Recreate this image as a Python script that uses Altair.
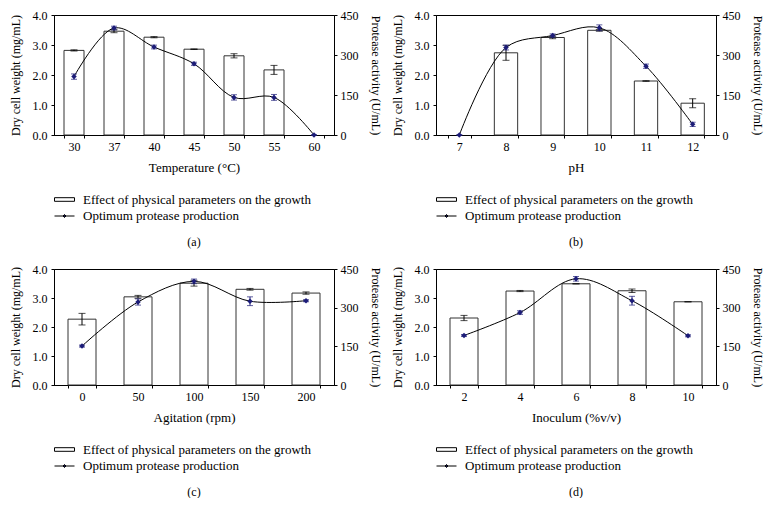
import altair as alt
import pandas as pd
import numpy as np

FONT = "Liberation Serif"
NAVY = "#1c1c78"
LEG1 = "Effect of physical parameters on the growth"
LEG2 = "Optimum protease production"

# (a) Temperature
temp_cats = ["30", "37", "40", "45", "50", "55", "60"]
temp_dcw = [2.82, 3.46, 3.26, 2.86, 2.64, 2.17, np.nan]
temp_dcw_err = [0.02, 0.05, 0.02, 0.01, 0.07, 0.15, np.nan]
temp_prot = [219, 401, 330, 267, 141, 141, 0]
temp_prot_err = [10, 7, 7, 6, 10, 11, 0]

# (b) pH
ph_cats = ["7", "8", "9", "10", "11", "12"]
ph_dcw = [np.nan, 2.74, 3.25, 3.49, 1.80, 1.06]
ph_dcw_err = [np.nan, 0.25, 0.04, 0.03, 0.01, 0.15]
ph_prot = [0, 328, 373, 402, 258, 40]
ph_prot_err = [0, 9, 6, 11, 8, 8]

# (c) Agitation
agit_cats = ["0", "50", "100", "150", "200"]
agit_dcw = [2.27, 3.04, 3.51, 3.30, 3.17]
agit_dcw_err = [0.20, 0.05, 0.10, 0.03, 0.04]
agit_prot = [151, 322, 402, 325, 327]
agit_prot_err = [4, 12, 9, 17, 4]

# (d) Inoculum
inoc_cats = ["2", "4", "6", "8", "10"]
inoc_dcw = [2.31, 3.24, 3.49, 3.25, 2.87]
inoc_dcw_err = [0.09, 0.02, 0.0, 0.06, 0.0]
inoc_prot = [192, 281, 412, 327, 191]
inoc_prot_err = [4, 7, 9, 17, 4]


def panel(cats, dcw, dcw_err, prot, prot_err, xtitle, caption, h):
    df = pd.DataFrame({"cat": cats, "dcw": dcw, "dcw_err": dcw_err,
                       "prot": prot, "prot_err": prot_err})
    df["dcw_lo"] = df["dcw"] - df["dcw_err"]
    df["dcw_hi"] = df["dcw"] + df["dcw_err"]
    df["prot_lo"] = df["prot"] - df["prot_err"]
    df["prot_hi"] = df["prot"] + df["prot_err"]
    df["s1"] = LEG1
    df["s2"] = LEG2
    base = alt.Chart(df)
    x = alt.X("cat:N", sort=cats,
              scale=alt.Scale(paddingInner=0.5, paddingOuter=0.25),
              axis=alt.Axis(title=xtitle, labelAngle=0, tickBand="extent",
                            tickSize=3, labelPadding=3, titlePadding=9,
                            titleFontSize=13))
    ls = alt.Scale(domain=[0, 4])
    rs = alt.Scale(domain=[0, 450])
    lax = alt.Axis(title="Dry cell weight (mg/mL)", values=[0, 1, 2, 3, 4],
                   format=".1f", grid=False, tickSize=3, labelPadding=4, titlePadding=10)
    rax = alt.Axis(orient="right", title="Protease activity (U/mL)",
                   values=[0, 150, 300, 450], grid=False, tickSize=3,
                   labelPadding=3, titlePadding=10)

    bars = base.mark_bar(stroke="#333333", strokeWidth=1).encode(
        x=x,
        y=alt.Y("dcw:Q", scale=ls, axis=lax),
        fill=alt.Fill("s1:N", scale=alt.Scale(domain=[LEG1], range=["white"]),
                      legend=alt.Legend(title=None, orient="none", legendX=0, legendY=h + 54,
                                        symbolType="M-1,-0.18H1V0.18H-1Z", symbolSize=400,
                                        symbolStrokeColor="black", symbolStrokeWidth=1,
                                        labelOffset=8, padding=0, labelLimit=400)),
    )
    r1 = base.mark_rule(color="black", strokeWidth=1).encode(
        x=x, y=alt.Y("dcw_lo:Q", scale=ls, axis=lax), y2="dcw_hi:Q")
    c1 = base.mark_tick(color="black", thickness=1, size=7).encode(
        x=x, y=alt.Y("dcw_lo:Q", scale=ls, axis=lax))
    c2 = base.mark_tick(color="black", thickness=1, size=7).encode(
        x=x, y=alt.Y("dcw_hi:Q", scale=ls, axis=lax))
    left = alt.layer(bars, r1, c1, c2)

    line = base.mark_line(interpolate="catmull-rom", strokeWidth=1).encode(
        x=x,
        y=alt.Y("prot:Q", scale=rs, axis=rax),
        stroke=alt.Stroke("s2:N", scale=alt.Scale(domain=[LEG2], range=["black"]),
                          legend=alt.Legend(title=None, orient="none", legendX=0,
                                            legendY=h + 70.5,
                                            symbolType="M-1,0H1M-0.15,0L0,-0.15L0.15,0L0,0.15Z",
                                            symbolSize=400, symbolStrokeWidth=1,
                                            symbolFillColor=NAVY,
                                            labelOffset=8, padding=0, labelLimit=400)),
    )
    r2 = base.mark_rule(color=NAVY, strokeWidth=1).encode(
        x=x, y=alt.Y("prot_lo:Q", scale=rs, axis=rax), y2="prot_hi:Q")
    c3 = base.mark_tick(color=NAVY, thickness=1, size=6).encode(
        x=x, y=alt.Y("prot_lo:Q", scale=rs, axis=rax))
    c4 = base.mark_tick(color=NAVY, thickness=1, size=6).encode(
        x=x, y=alt.Y("prot_hi:Q", scale=rs, axis=rax))
    pts = base.mark_point(shape="diamond", filled=True, size=30, color=NAVY, opacity=1).encode(
        x=x, y=alt.Y("prot:Q", scale=rs, axis=rax))
    right = alt.layer(line, r2, c3, c4, pts)

    return alt.layer(left, right).resolve_scale(y="independent").properties(
        width=280, height=h,
        title=alt.TitleParams(caption, orient="bottom", anchor="middle", offset=13,
                              font=FONT, fontSize=12, fontWeight="normal", color="black"),
    )


pa = panel(temp_cats, temp_dcw, temp_dcw_err, temp_prot, temp_prot_err,
           "Temperature (°C)", "(a)", 120)
pb = panel(ph_cats, ph_dcw, ph_dcw_err, ph_prot, ph_prot_err, "pH", "(b)", 120)
pc = panel(agit_cats, agit_dcw, agit_dcw_err, agit_prot, agit_prot_err,
           "Agitation (rpm)", "(c)", 116)
pd_ = panel(inoc_cats, inoc_dcw, inoc_dcw_err, inoc_prot, inoc_prot_err,
            "Inoculum (%v/v)", "(d)", 116)

res = dict(fill="independent", stroke="independent")
row1 = alt.hconcat(pa, pb, spacing=8).resolve_scale(**res).resolve_legend(**res)
row2 = alt.hconcat(pc, pd_, spacing=8).resolve_scale(**res).resolve_legend(**res)

chart = alt.vconcat(row1, row2, spacing=14).resolve_scale(**res).resolve_legend(**res).properties(
    padding={"left": 0, "top": 0, "right": 0, "bottom": 0}
).configure_axis(
    labelFont=FONT, titleFont=FONT, labelFontSize=12, titleFontSize=12,
    titleFontWeight="normal", domainColor="black", tickColor="black",
    labelColor="black", titleColor="black",
).configure_legend(
    labelFont=FONT, labelFontSize=13, labelColor="black", rowPadding=5,
).configure_view(stroke="black", strokeWidth=1)

chart.save("out.html", embed_options={"renderer": "svg", "actions": False})
